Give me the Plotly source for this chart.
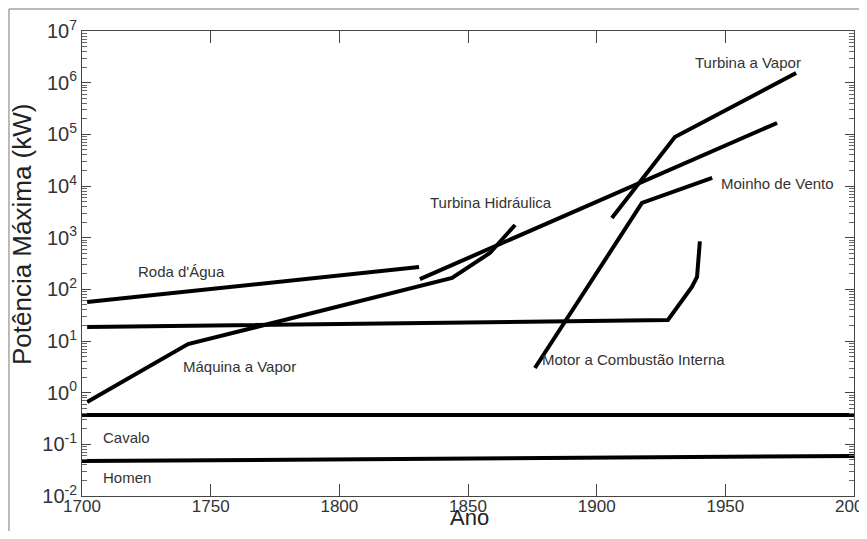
import math
import plotly.graph_objects as go

# ---- data ----
roda_x = [1702, 1831]
roda_y = [57, 270]

flat_x = [1702, 1927.7, 1937.0, 1939.0, 1940.1]
flat_y = [18.7, 25.5, 111, 173, 850]

vapor_x = [1702, 1741.2, 1843.8, 1858.5, 1868.3]
vapor_y = [0.66, 8.7, 166, 505, 1760]

hidr_x = [1831.3, 1970.1]
hidr_y = [158, 1.66e5]

turb_x = [1905.9, 1930.4, 1977.5]
turb_y = [2400, 8.9e4, 1.54e6]

motor_x = [1876.0, 1917.6, 1944.9]
motor_y = [3.0, 4690, 1.43e4]

cavalo_x = [1700, 2000]
cavalo_y = [0.37, 0.37]

homen_x = [1700, 2000]
homen_y = [0.0475, 0.0594]

labels = ["Turbina a Vapor", "Moinho de Vento", "Turbina Hidráulica", "Roda d'Água",
          "Máquina a Vapor", "Motor a Combustão Interna", "Cavalo", "Homen"]
label_x = [1958.8, 1947.5, 1859.1, 1721, 1738.5, 1878, 1707.4, 1707.4]
label_y = [2.5e6, 1.1e4, 4.9e3, 226, 3.28, 4.29, 0.133, 0.0233]
label_anchor = ["center", "left", "center", "left", "left", "left", "left", "left"]

x_ticks = [1700, 1750, 1800, 1850, 1900, 1950, 2000]
y_exps = [-2, -1, 0, 1, 2, 3, 4, 5, 6, 7]

x_title = "Ano"
y_title = "Potência Máxima (kW)"

FONT = "Liberation Sans, Arial"

fig = go.Figure()
for xs, ys in [(roda_x, roda_y), (flat_x, flat_y), (vapor_x, vapor_y), (hidr_x, hidr_y),
               (turb_x, turb_y), (motor_x, motor_y), (cavalo_x, cavalo_y), (homen_x, homen_y)]:
    fig.add_trace(go.Scatter(x=xs, y=ys, mode="lines",
                             line=dict(color="black", width=4), showlegend=False,
                             hoverinfo="skip"))

for t, x, y, a in zip(labels, label_x, label_y, label_anchor):
    fig.add_annotation(x=x, y=math.log10(y), text=t, showarrow=False, xanchor=a,
                       font=dict(family=FONT, size=15, color="#333"))

# axis titles
fig.add_annotation(xref="paper", yref="paper", x=0.5013, y=-0.0753, text=x_title,
                   showarrow=False, xanchor="center", yanchor="bottom", borderpad=0,
                   font=dict(family=FONT, size=22, color="#222"))
fig.add_annotation(xref="paper", yref="paper", x=-0.0777, y=0.5634, text=y_title,
                   showarrow=False, xanchor="center", yanchor="middle", textangle=-90,
                   font=dict(family=FONT, size=26, color="#222"))

minor_vals = [k * 10**e for e in range(-2, 7) for k in range(2, 10)]

fig.update_xaxes(range=[1700, 2000], tickvals=x_ticks, ticks="inside", ticklen=12,
                 tickcolor="#444", showline=True, linecolor="#444", linewidth=1,
                 mirror="allticks", showgrid=False, zeroline=False, automargin=False,
                 ticklabeloverflow="allow", ticklabelstandoff=-5,
                 tickfont=dict(family=FONT, size=17, color="#333"))
fig.update_yaxes(type="log", range=[-2, 7], tickvals=[10**e for e in y_exps],
                 ticktext=["10<sup>%d</sup>" % e for e in y_exps],
                 ticks="inside", ticklen=9, tickcolor="#444",
                 minor=dict(ticks="inside", ticklen=5, tickvals=minor_vals, tickcolor="#666",
                            showgrid=False),
                 showline=True, linecolor="#444", linewidth=1, mirror="allticks",
                 showgrid=False, zeroline=False, automargin=False,
                 tickfont=dict(family=FONT, size=20, color="#333"))

# outer frame (left & top edges visible)
fig.add_shape(type="line", xref="paper", yref="paper", x0=-0.0946, x1=-0.0946, y0=-0.2, y1=1.0473,
              line=dict(color="#777", width=1))
fig.add_shape(type="line", xref="paper", yref="paper", x0=-0.0946, x1=1.2, y0=1.0473, y1=1.0473,
              line=dict(color="#777", width=1))

# page has an 8px body margin: figure is shifted by (8, 8)
fig.update_layout(width=851, height=523, plot_bgcolor="white", paper_bgcolor="white",
                  margin=dict(l=74, r=5, t=23, b=35), showlegend=False)
fig.write_html("out.html")
